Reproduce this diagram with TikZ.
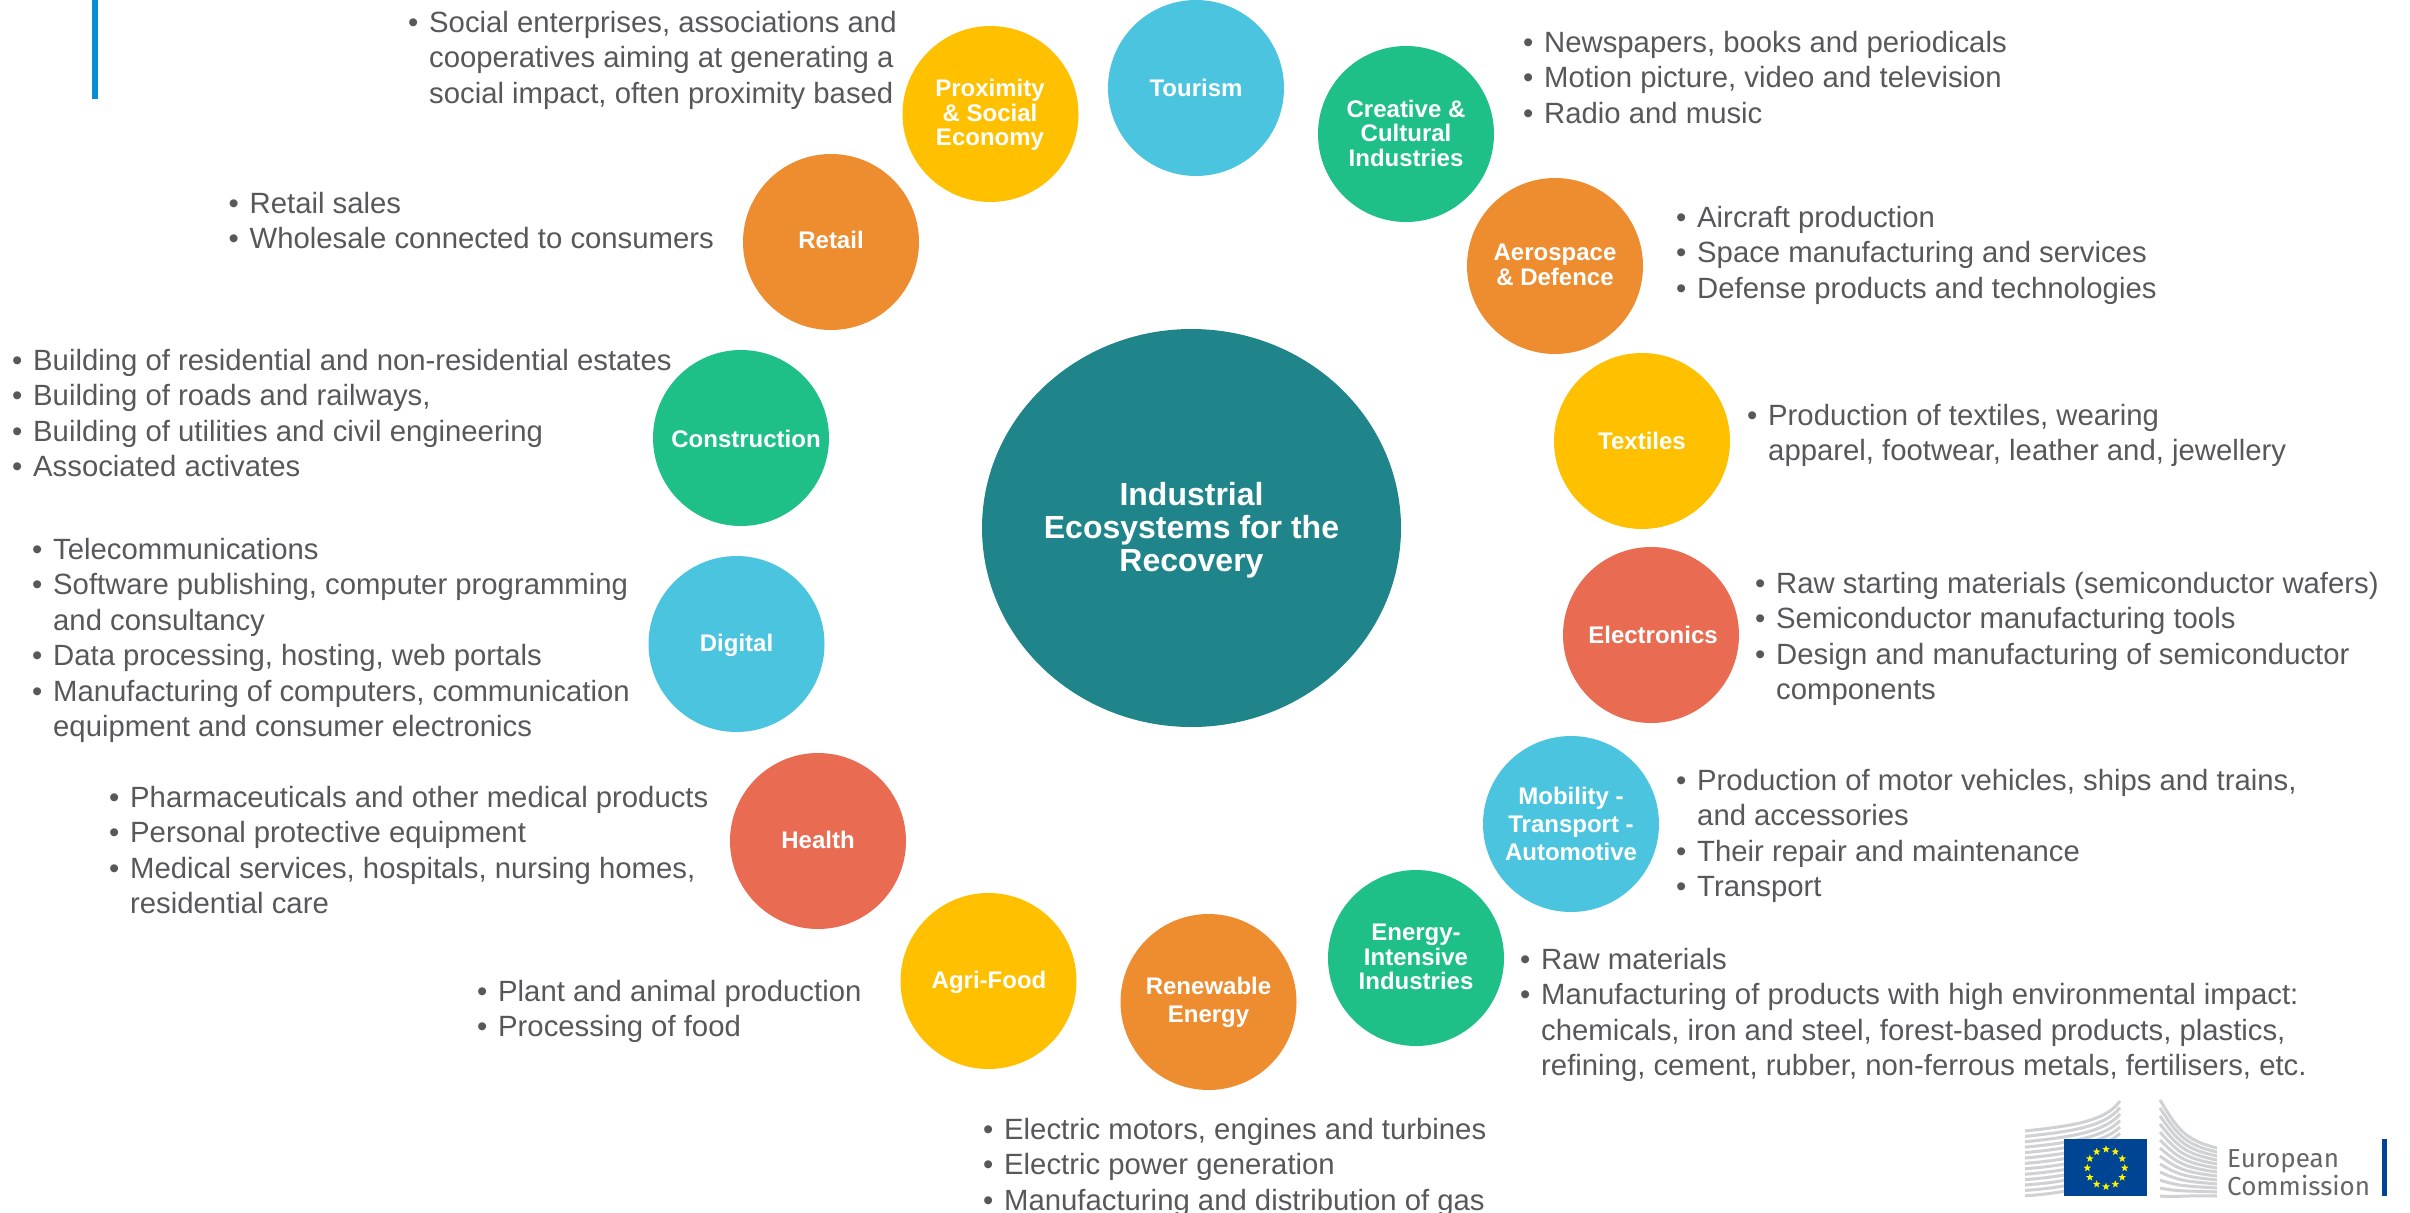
\documentclass[tikz,border=0pt]{standalone}
\usepackage{fontspec}
\setmainfont{Liberation Sans}
\newfontfamily\ecfont{Fira Sans}
\usetikzlibrary{shapes.geometric}
\definecolor{txt}{HTML}{58585A}
\definecolor{cteal}{HTML}{1F858A}
\definecolor{cyel}{HTML}{FFC000}
\definecolor{cblue}{HTML}{4BC5DF}
\definecolor{cgreen}{HTML}{1FC088}
\definecolor{corg}{HTML}{EE8D30}
\definecolor{cred}{HTML}{E96B52}
\definecolor{ecblue}{HTML}{004494}
\definecolor{ecgray}{HTML}{CFD1D2}
\definecolor{topbar}{HTML}{0A8BD6}
\newcommand{\itm}[1]{\makebox[21pt][l]{•}#1}
\newcommand{\cnt}[1]{\makebox[21pt][l]{}#1}
\tikzset{
  x=1pt,y=-1pt,
  bub/.style={circle,minimum size=176pt,inner sep=0pt,draw=none},
  lab/.style={text=white,font=\fontsize{24}{24.5}\selectfont\bfseries,align=center,inner sep=0pt},
  labw/.style={lab,font=\fontsize{24}{28}\selectfont\bfseries},
  lst/.style={text=txt,font=\fontsize{29.3}{35.4}\selectfont,align=left,anchor=north west,inner sep=0pt},
  eustar/.style={star,star points=5,star point ratio=2.4,fill=yellow,minimum size=8pt,inner sep=0pt},
  bl/.style={ecgray,line width=3pt}
}
\newcommand{\Bub}[7]{\node[bub,fill=#2] (#1) at (#3,#4) {}; \node[lab] (#1t) at (#5,#6) {#7};}
\newcommand{\BubW}[7]{\node[bub,fill=#2] (#1) at (#3,#4) {}; \node[labw] (#1t) at (#5,#6) {#7};}
\begin{document}
\begin{tikzpicture}
\useasboundingbox (0,0) rectangle (2410,1213);
\fill[white] (0,0) rectangle (2410,1213);
\fill[topbar] (92,0) rectangle (98,99);
\node[ellipse,fill=cteal,minimum width=419pt,minimum height=398pt,inner sep=0pt] (center) at (1191.5,528) {};
\node[text=white,font=\fontsize{32}{33}\selectfont\bfseries,align=center,inner sep=0pt] (centert) at (1191.5,530) {Industrial\\Ecosystems for the\\Recovery};
\Bub{prox}{cyel}{990.5}{114}{990}{115}{Proximity\\\& Social\\Economy}
\Bub{tour}{cblue}{1196}{88}{1196}{88}{Tourism}
\Bub{crea}{cgreen}{1406}{134}{1406}{133}{Creative \&\\Cultural\\Industries}
\Bub{aero}{corg}{1555}{266}{1555}{265}{Aerospace\\\& Defence}
\Bub{text}{cyel}{1642}{441}{1642}{441}{Textiles}
\Bub{elec}{cred}{1651}{635}{1653}{635}{Electronics}
\BubW{mobi}{cblue}{1571}{824}{1571}{824}{Mobility -\\Transport -\\Automotive}
\Bub{ener}{cgreen}{1416}{958}{1416}{957}{Energy-\\Intensive\\Industries}
\BubW{rene}{corg}{1208.5}{1002}{1208.5}{1002}{Renewable\\Energy}
\Bub{agri}{cyel}{988.5}{981}{989}{982}{Agri-Food}
\Bub{heal}{cred}{818}{841}{818}{840}{Health}
\Bub{digi}{cblue}{736.5}{644}{736.5}{645.5}{Digital}
\Bub{cons}{cgreen}{741}{438}{746}{439}{Construction}
\Bub{reta}{corg}{831}{242}{831}{240}{Retail}
\node[lst] (lprox) at (408,11) {\itm{Social enterprises, associations and}\\\cnt{cooperatives aiming at generating a}\\\cnt{social impact, often proximity based}};
\node[lst] (lreta) at (228.5,192) {\itm{Retail sales}\\\itm{Wholesale connected to consumers}};
\node[lst] (lcons) at (12,349) {\itm{Building of residential and non-residential estates}\\\itm{Building of roads and railways,}\\\itm{Building of utilities and civil engineering}\\\itm{Associated activates}};
\node[lst] (ldigi) at (32,538) {\itm{Telecommunications}\\\itm{Software publishing, computer programming}\\\cnt{and consultancy}\\\itm{Data processing, hosting, web portals}\\\itm{Manufacturing of computers, communication}\\\cnt{equipment and consumer electronics}};
\node[lst] (lheal) at (109,786) {\itm{Pharmaceuticals and other medical products}\\\itm{Personal protective equipment}\\\itm{Medical services, hospitals, nursing homes,}\\\cnt{residential care}};
\node[lst] (lagri) at (477,980) {\itm{Plant and animal production}\\\itm{Processing of food}};
\node[lst] (lrene) at (983,1118) {\itm{Electric motors, engines and turbines}\\\itm{Electric power generation}\\\itm{Manufacturing and distribution of gas}};
\node[lst] (lener) at (1520,948) {\itm{Raw materials}\\\itm{Manufacturing of products with high environmental impact:}\\\cnt{chemicals, iron and steel, forest-based products, plastics,}\\\cnt{refining, cement, rubber, non-ferrous metals, fertilisers, etc.}};
\node[lst] (lmobi) at (1676,769) {\itm{Production of motor vehicles, ships and trains,}\\\cnt{and accessories}\\\itm{Their repair and maintenance}\\\itm{Transport}};
\node[lst] (lelec) at (1755,572) {\itm{Raw starting materials (semiconductor wafers)}\\\itm{Semiconductor manufacturing tools}\\\itm{Design and manufacturing of semiconductor}\\\cnt{components}};
\node[lst] (ltext) at (1747,404) {\itm{Production of textiles, wearing}\\\cnt{apparel, footwear, leather and, jewellery}};
\node[lst] (laero) at (1676,206) {\itm{Aircraft production}\\\itm{Space manufacturing and services}\\\itm{Defense products and technologies}};
\node[lst] (lcrea) at (1523,31) {\itm{Newspapers, books and periodicals}\\\itm{Motion picture, video and television}\\\itm{Radio and music}};
% logo
\foreach \i in {0,...,12}{
  \draw[bl] (2025,{1131+\i*5.4}) .. controls (2070,{1126+\i*5.6}) and (2105,{1122+\i*5}) .. (2120,{1101+\i*6.5});
}
\foreach \i in {0,...,12}{
  \draw[bl] (2160,{1100+\i*8}) .. controls (2178,{1130+\i*5.6}) and (2185,{1140+\i*4.6}) .. (2217,{1148+\i*4});
}
\fill[ecblue] (2064,1139) rectangle (2147,1196);
\foreach \a in {0,30,...,330}{
  \node[eustar] at ({2106+18.7*cos(\a)},{1168+18.7*sin(\a)}) {};
}
\node[anchor=base west,inner sep=0pt,text=black!60,font=\ecfont\fontsize{26}{26}\selectfont] (eu) at (2227,1167) {European};
\node[anchor=base west,inner sep=0pt,text=black!60,font=\ecfont\fontsize{26}{26}\selectfont] (com) at (2227,1195) {Commission};
\fill[ecblue] (2382,1139) rectangle (2387,1196);
\end{tikzpicture}
\end{document}
